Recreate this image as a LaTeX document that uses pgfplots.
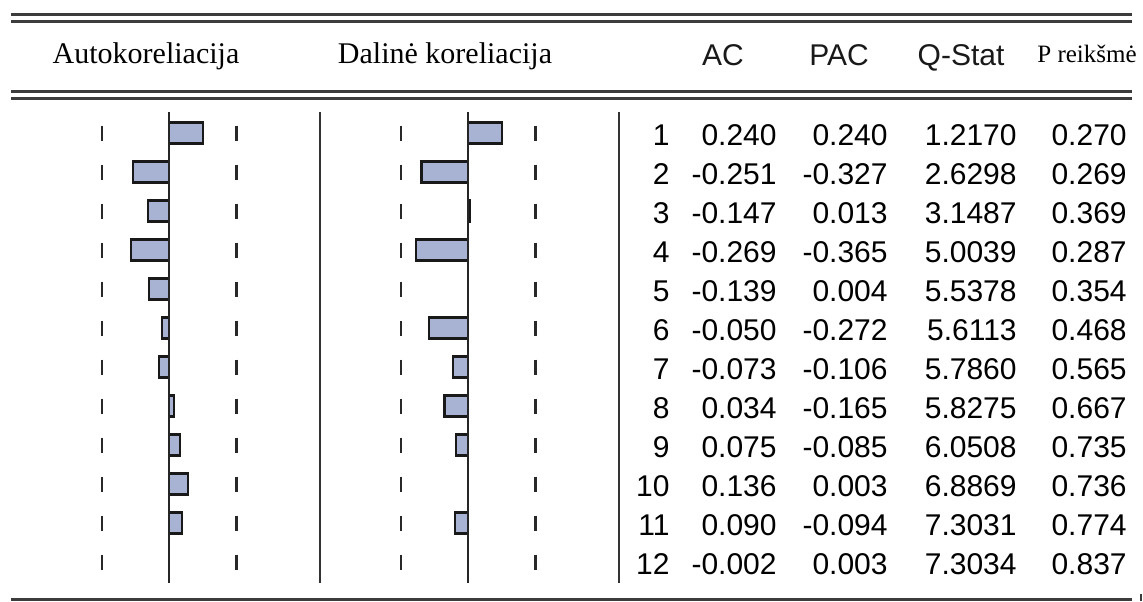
\documentclass[border=0pt]{standalone}
\usepackage{pgfplots}
\pgfplotsset{compat=1.18}
\usepackage{pgfplotstable}
\usepackage{fontspec}
\setmainfont{Liberation Serif}
\newfontfamily\arial{Liberation Sans}
\definecolor{barfill}{RGB}{168,178,210}
\definecolor{rule}{RGB}{60,60,60}
\definecolor{dashc}{RGB}{40,40,40}

\pgfplotstableread{
lag AC PAC Q P
1 0.240 0.240 1.2170 0.270
2 -0.251 -0.327 2.6298 0.269
3 -0.147 0.013 3.1487 0.369
4 -0.269 -0.365 5.0039 0.287
5 -0.139 0.004 5.5378 0.354
6 -0.050 -0.272 5.6113 0.468
7 -0.073 -0.106 5.7860 0.565
8 0.034 -0.165 5.8275 0.667
9 0.075 -0.085 6.0508 0.735
10 0.136 0.003 6.8869 0.736
11 0.090 -0.094 7.3031 0.774
12 -0.002 0.003 7.3034 0.837
}\corr

\pgfplotsset{corrpanel/.style={
  anchor=north west, x=71pt, y=19.5pt, y dir=reverse,
  xmin=-0.5, xmax=0.5, ymin=0.46, ymax=12.54,
  hide axis, clip=false, enlargelimits=false,
  xbar, bar width=10.5pt}}

\begin{document}
\begin{tikzpicture}
\useasboundingbox (0,0) rectangle (571.5pt,-300.5pt);

% ACF panel
\begin{axis}[corrpanel, at={(49pt,-56pt)}]
  \draw[dashc, line width=1.4pt, dash pattern=on 7.5pt off 12pt]
     (axis cs:-0.472,0.808) -- (axis cs:-0.472,12.2);
  \draw[dashc, line width=1.4pt, dash pattern=on 7.5pt off 12pt]
     (axis cs:0.478,0.808) -- (axis cs:0.478,12.2);
  \addplot[draw=black!90, line width=1.1pt, fill=barfill,
     x filter/.expression={abs(x)<0.01 ? nan : x}]
     table[x=AC, y=lag]{\corr};
  \draw[black!85, line width=1.2pt] (axis cs:0,0.46) -- (axis cs:0,12.54);
\end{axis}

% PACF panel
\begin{axis}[corrpanel, at={(198.5pt,-56pt)}]
  \draw[dashc, line width=1.4pt, dash pattern=on 7.5pt off 12pt]
     (axis cs:-0.472,0.808) -- (axis cs:-0.472,12.2);
  \draw[dashc, line width=1.4pt, dash pattern=on 7.5pt off 12pt]
     (axis cs:0.478,0.808) -- (axis cs:0.478,12.2);
  \addplot[draw=black!90, line width=1.1pt, fill=barfill,
     x filter/.expression={abs(x)<0.01 ? nan : x}]
     table[x=PAC, y=lag]{\corr};
  \draw[black!85, line width=1.2pt] (axis cs:0,0.46) -- (axis cs:0,12.54);
\end{axis}

\begin{scope}[x=0.5pt, y=-0.5pt]
  % rules
  \draw[rule, line width=1.5pt] (11,14) -- (1132,14);
  \draw[rule, line width=1.5pt] (11,21.5) -- (1132,21.5);
  \draw[rule, line width=1.5pt] (11,91) -- (1132,91);
  \draw[rule, line width=1.5pt] (11,98.5) -- (1132,98.5);
  \draw[rule, line width=1.5pt] (11,599) -- (1132,599);
  \draw[rule, line width=0.7pt] (1141,594) -- (1141,601);
  \draw[black!80, line width=1.2pt] (320,112) -- (320,583);
  \draw[black!80, line width=1.2pt] (619,112) -- (619,583);

  % headers
  \node[anchor=base, inner sep=0pt, font=\fontsize{15}{18}\selectfont] at (146,63) {Autokoreliacija};
  \node[anchor=base, inner sep=0pt, font=\fontsize{15}{18}\selectfont] at (445,63) {Dalinė koreliacija};
  \node[anchor=base, inner sep=0pt, font=\arial\fontsize{15}{18}\selectfont, text=black!90] at (723,65) {AC};
  \node[anchor=base, inner sep=0pt, font=\arial\fontsize{15}{18}\selectfont, text=black!90] at (839,65) {PAC};
  \node[anchor=base, inner sep=0pt, font=\arial\fontsize{15}{18}\selectfont, text=black!90] at (961,65) {Q-Stat};
  \node[anchor=base, inner sep=0pt, font=\fontsize{12.5}{15}\selectfont] at (1087,62) {P reikšmė};

  % table values
  \foreach \r in {0,...,11}{
    \pgfplotstablegetelem{\r}{lag}\of\corr \let\vlag\pgfplotsretval
    \pgfplotstablegetelem{\r}{AC}\of\corr \let\vac\pgfplotsretval
    \pgfplotstablegetelem{\r}{PAC}\of\corr \let\vpac\pgfplotsretval
    \pgfplotstablegetelem{\r}{Q}\of\corr \let\vq\pgfplotsretval
    \pgfplotstablegetelem{\r}{P}\of\corr \let\vp\pgfplotsretval
    \begin{scope}[every node/.style={anchor=base east, inner sep=0pt,
        font=\arial\fontsize{15}{18}\selectfont, text=black}]
      \node at (670,{145+39*\r}) {\vlag};
      \node at (777,{145+39*\r}) {\vac};
      \node at (888,{145+39*\r}) {\vpac};
      \node at (1017,{145+39*\r}) {\vq};
      \node at (1127,{145+39*\r}) {\vp};
    \end{scope}
  }
\end{scope}
\end{tikzpicture}
\end{document}
